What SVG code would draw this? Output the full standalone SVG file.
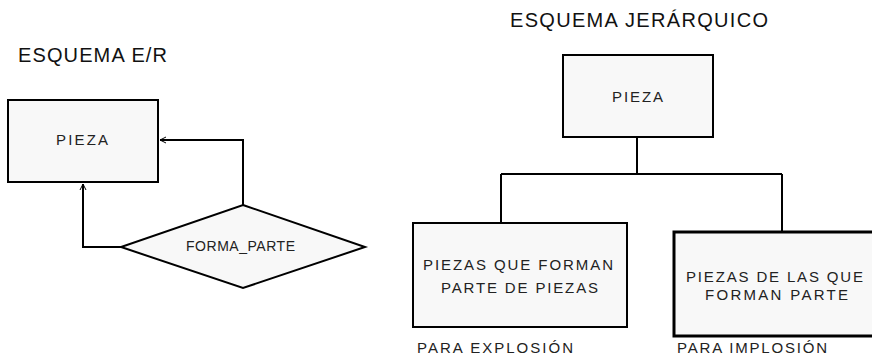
<svg xmlns="http://www.w3.org/2000/svg" width="872" height="362" viewBox="0 0 872 362">
<style>
text{font-family:"Liberation Sans",Arial,sans-serif;fill:#111}
.t{font-size:20px}
.n{font-size:15px;fill:#222}
.s{font-size:14px;fill:#222}
.box{fill:#f8f8f8;stroke:#000;stroke-width:2}
.thick{stroke-width:3}
.c{fill:none;stroke:#000;stroke-width:2}
</style>
<defs>
<marker id="ah" markerUnits="userSpaceOnUse" markerWidth="10" markerHeight="10" refX="7" refY="4" orient="auto">
<path d="M1,1 L7,4 L1,7" fill="none" stroke="#000" stroke-width="1"/>
</marker>
</defs>
<rect width="872" height="362" fill="#fff"/>
<text class="t" x="18" y="62" textLength="149" lengthAdjust="spacing">ESQUEMA E/R</text>
<text class="t" x="510" y="27" textLength="258" lengthAdjust="spacing">ESQUEMA JERÁRQUICO</text>
<g id="connectors">
<path class="c" d="M243,205 V140 H160" marker-end="url(#ah)"/>
<path class="c" d="M121,247 H83 V184" marker-end="url(#ah)"/>
<path class="c" d="M637,137 V174"/>
<path class="c" d="M501,174 H782"/>
<path class="c" d="M501,174 V222"/>
<path class="c" d="M782,174 V231"/>
</g>
<g id="pieza-er">
<rect class="box" x="8" y="100" width="150" height="82"/>
<text class="n" x="56" y="145" textLength="52" lengthAdjust="spacing">PIEZA</text>
</g>
<g id="forma-parte">
<polygon class="box" points="243,205 365,247 243,288 121,247"/>
<text class="s" x="186" y="251" textLength="109" lengthAdjust="spacing">FORMA_PARTE</text>
</g>
<g id="pieza-jer">
<rect class="box" x="563" y="55" width="150" height="82"/>
<text class="n" x="612" y="102" textLength="51" lengthAdjust="spacing">PIEZA</text>
</g>
<g id="explosion">
<rect class="box" x="413" y="223" width="214" height="104"/>
<text class="n" x="423" y="270" textLength="190" lengthAdjust="spacing">PIEZAS QUE FORMAN</text>
<text class="n" x="441" y="293" textLength="157" lengthAdjust="spacing">PARTE DE PIEZAS</text>
<text class="n" x="417" y="353" textLength="156" lengthAdjust="spacing">PARA EXPLOSIÓN</text>
</g>
<g id="implosion">
<rect class="box thick" x="674" y="232" width="204" height="104"/>
<text class="n" x="686" y="282" textLength="177" lengthAdjust="spacing">PIEZAS DE LAS QUE</text>
<text class="n" x="705" y="300" textLength="143" lengthAdjust="spacing">FORMAN PARTE</text>
<text class="n" x="677" y="353" textLength="150" lengthAdjust="spacing">PARA IMPLOSIÓN</text>
</g>
</svg>
